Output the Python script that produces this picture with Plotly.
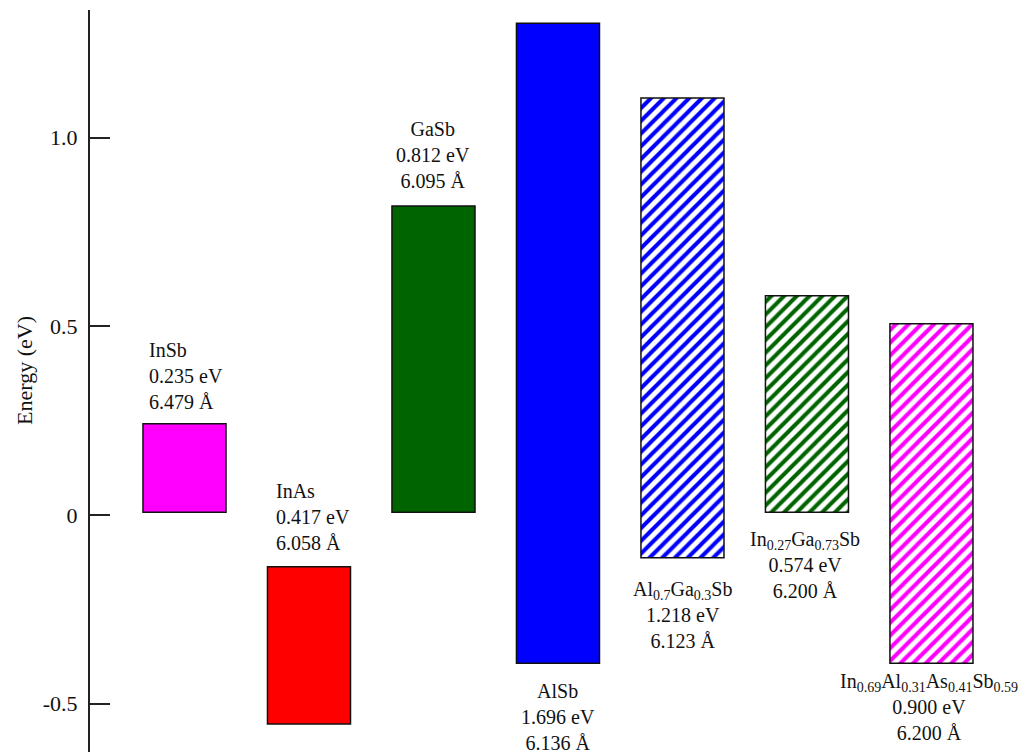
import plotly.graph_objects as go

# Semiconductor band positions: band-gap bars drawn from the valence-band edge
materials = ["InSb", "InAs", "GaSb", "AlSb",
             "Al<sub>0.7</sub>Ga<sub>0.3</sub>Sb",
             "In<sub>0.27</sub>Ga<sub>0.73</sub>Sb",
             "In<sub>0.69</sub>Al<sub>0.31</sub>As<sub>0.41</sub>Sb<sub>0.59</sub>"]
valence_edge = [0.007, -0.554, 0.007, -0.393, -0.113, 0.007, -0.393]   # eV
band_gap = [0.235, 0.417, 0.812, 1.696, 1.218, 0.574, 0.900]          # eV
lattice_const = [6.479, 6.058, 6.095, 6.136, 6.123, 6.200, 6.200]     # Angstrom
y_tick_vals = [-0.5, 0, 0.5, 1.0]
y_tick_text = ["-0.5", "0", "0.5", "1.0"]

# Styling
bar_colors = ["#FF00FF", "#FF0000", "#006400", "#0000FF", "#0000FF", "#006400", "#FF00FF"]
hatched = [False, False, False, False, True, True, True]
bar_width = 0.667
serif = "Liberation Serif"

# Label placement per bar: (side, horizontal anchor, x offset px, y offset px)
label_place = [("above", "left", 4, 9),
               ("above", "left", 7, 11),
               ("above", "center", 0, 12),
               ("below", "center", 0, -15),
               ("below", "center", 0, -18),
               ("below", "center", -2, -14),
               ("below", "center", -2, -5)]

x_pos = list(range(len(materials)))

fig = go.Figure()
for i in x_pos:
    if hatched[i]:
        marker = dict(color="white",
                      line=dict(color="#111111", width=1.5),
                      pattern=dict(shape="/", fgcolor=bar_colors[i], bgcolor="white",
                                   fgopacity=1, size=9, solidity=0.45,
                                   fillmode="overlay"))
    else:
        marker = dict(color=bar_colors[i], line=dict(color="#111111", width=1.5))
    fig.add_trace(go.Bar(
        x=[x_pos[i]],
        y=[band_gap[i]],
        base=[valence_edge[i]],
        width=bar_width,
        marker=marker,
        opacity=1,
        hoverinfo="skip",
        showlegend=False,
    ))

annotations = []
for i, (name, base, gap, a) in enumerate(zip(materials, valence_edge, band_gap, lattice_const)):
    side, xanchor, dx, dy = label_place[i]
    text = f"{name}<br>{gap:.3f} eV<br>{a:.3f} Å"
    x = x_pos[i] - bar_width / 2 if xanchor == "left" else x_pos[i]
    y = base + gap if side == "above" else base
    annotations.append(dict(
        x=x, y=y, xref="x", yref="y", text=text, showarrow=False,
        xanchor=xanchor, yanchor="bottom" if side == "above" else "top",
        align="left" if xanchor == "left" else "center",
        xshift=dx, yshift=dy,
        font=dict(family=serif, size=20, color="#111111"),
    ))

annotations.append(dict(
    x=0, y=0.5135, xref="paper", yref="paper", text="Energy (eV)",
    textangle=-90, showarrow=False, xanchor="center", yanchor="middle",
    xshift=-65, font=dict(family=serif, size=22, color="#111111"),
))

fig.update_layout(
    width=1023, height=754,
    margin=dict(l=90, r=10, t=10, b=2),
    paper_bgcolor="white", plot_bgcolor="white",
    barmode="overlay",
    annotations=annotations,
    xaxis=dict(range=[-0.759, 6.655], visible=False, showgrid=False, zeroline=False),
    yaxis=dict(range=[-0.628, 1.338], showgrid=False, zeroline=False,
               showline=True, linecolor="#222222", linewidth=2,
               ticks="inside", ticklen=20, tickwidth=2, tickcolor="#222222",
               tickvals=y_tick_vals, ticktext=y_tick_text,
               ticklabelstandoff=6,
               tickfont=dict(family=serif, size=22, color="#111111")),
)

fig.write_html("out.html")
